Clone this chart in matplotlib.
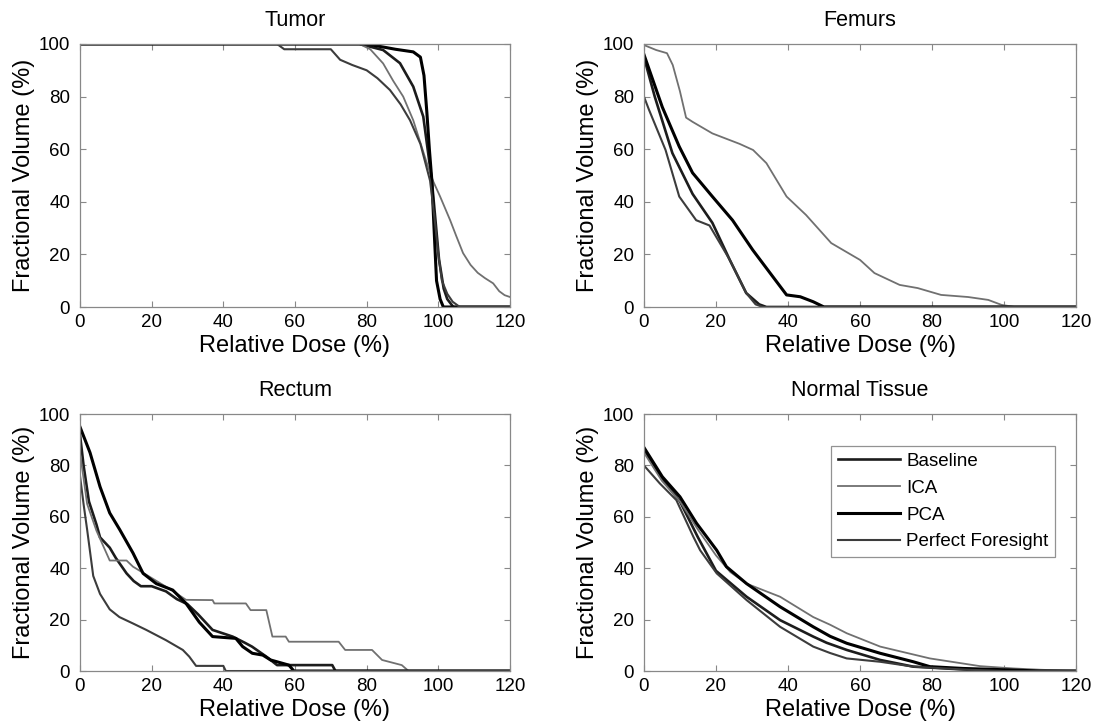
import matplotlib.pyplot as plt

plt.rcParams["font.family"] = ["Liberation Sans", "DejaVu Sans"]

# ---- Tumor ----
tumor_base_x = [0, 78, 84.6, 89.3, 93, 95.8, 98.2, 99.2, 100.2, 101.5, 102.5, 104.2, 120]
tumor_base_y = [100, 100, 97.7, 92.7, 83.8, 72.4, 48, 33, 18, 7, 3, 0, 0]
tumor_ica_x = [0, 78, 81, 84.6, 87.4, 90.2, 93, 96.8, 98.5, 100.5, 103.3, 105, 106.9, 109, 111, 113, 115.3, 117, 118.5, 120]
tumor_ica_y = [100, 100, 98, 92.6, 86, 80, 71, 54.7, 48, 42, 33, 27, 20.5, 16, 13, 11, 9, 6, 4.5, 3.8]
tumor_pca_x = [0, 80, 88, 93, 95, 96, 96.8, 97.5, 98.2, 98.8, 99.5, 100.5, 101.4, 120]
tumor_pca_y = [100, 100, 98, 97, 95, 88, 74, 60, 48, 30, 10, 3, 0, 0]
tumor_pf_x = [0, 55, 57, 70, 72.6, 76, 80, 83, 86.5, 89.5, 92.1, 95, 97.7, 99, 100, 101, 102.5, 104, 106, 120]
tumor_pf_y = [100, 100, 98, 98, 94, 92, 90, 87, 82.5, 77, 71, 62, 48, 33, 20, 10, 5, 2, 0, 0]

# ---- Femurs ----
fem_base_x = [0, 3, 7.9, 13.5, 19, 23.8, 28.4, 32, 34, 120]
fem_base_y = [95, 80, 58.5, 43, 32, 18, 5.3, 1, 0, 0]
fem_ica_x = [0, 3.4, 6.4, 8, 10, 11.7, 13.5, 19, 26.6, 30.3, 34, 39.6, 45, 52, 60, 64, 71, 76, 82.5, 90, 95.6, 99.3, 103, 120]
fem_ica_y = [99.6, 97.7, 96.5, 92, 82, 72, 70.4, 66, 62, 59.7, 54.7, 42, 35, 24.3, 17.9, 12.9, 8.4, 7.2, 4.6, 3.8, 2.7, 0.8, 0, 0]
fem_pca_x = [0, 5.1, 9.8, 13.5, 19, 24.6, 30.2, 35.8, 39.6, 43.4, 47, 50, 120]
fem_pca_y = [96, 76, 61, 51, 42, 33, 21.7, 11.5, 4.6, 3.9, 2, 0, 0]
fem_pf_x = [0, 1.4, 6, 9.8, 14.5, 18.2, 23.8, 28.4, 31, 33, 120]
fem_pf_y = [80, 75, 59.7, 42, 33, 31, 18, 5.3, 1, 0, 0]

# ---- Rectum ----
rec_base_x = [0, 1, 2.5, 4.6, 5.6, 8.3, 10, 13, 15, 17, 20, 24, 27, 30, 33, 37, 42.6, 46, 48, 52, 55, 70.4, 71.3, 120]
rec_base_y = [92, 80, 66, 57, 52, 48, 44, 38, 35, 33, 33, 31, 28, 26, 22, 16, 13.4, 11, 9.5, 5.6, 2.3, 2.3, 0, 0]
rec_ica_x = [0, 2, 4.6, 8.3, 13, 14.8, 19.4, 24, 26.8, 29.6, 37, 37.5, 46.3, 47.6, 52, 53.7, 57.4, 58.3, 72.2, 74, 81.5, 84.3, 89.8, 91.7, 120]
rec_ica_y = [85, 65, 54.6, 43, 43, 40.6, 36.7, 32.8, 30.3, 27.7, 27.6, 26.3, 26.3, 23.7, 23.7, 13.4, 13.4, 11.4, 11.4, 8.2, 8.2, 4.3, 2.3, 0, 0]
rec_pca_x = [0, 2.8, 5.6, 8.3, 11.1, 14.8, 17.6, 21.3, 25.9, 29.6, 33.3, 37, 43.5, 45.4, 48.1, 51, 53.2, 58.3, 59.7, 120]
rec_pca_y = [95, 85, 71.7, 61.5, 55, 45.9, 38, 34, 31.5, 26.3, 19, 13.4, 12.7, 9.5, 6.9, 6.2, 4.3, 2.3, 0, 0]
rec_pf_x = [0, 1, 2, 3.7, 5.6, 8.3, 11, 14.8, 18.5, 24, 28.7, 30.5, 32.4, 40, 40.7, 120]
rec_pf_y = [76, 65, 55, 37, 30, 24, 21, 18.5, 16, 12, 8.2, 5.6, 2, 2, 0, 0]

# ---- Normal tissue ----
nt_base_x = [0, 5, 10, 15, 20, 28.5, 37.8, 47, 50.7, 56.3, 65.6, 74.8, 90, 100, 120]
nt_base_y = [86, 75, 66, 52, 39, 28.9, 19.8, 13.4, 11, 8.2, 4.3, 1.7, 0.5, 0, 0]
nt_ica_x = [0, 5, 10, 15, 20, 24, 28.5, 37.8, 47, 51.7, 56.3, 65.6, 79.4, 93.3, 102.6, 110, 120]
nt_ica_y = [85, 74, 66, 55, 45, 38.5, 34, 28.9, 21, 18, 14.7, 9.5, 4.9, 1.9, 1, 0.5, 0]
nt_pca_x = [0, 5.1, 10, 14.6, 20.2, 22.9, 28.5, 37.8, 47, 51.7, 56.3, 65.6, 74.8, 79.4, 88.6, 100, 110, 120]
nt_pca_y = [87, 75.6, 67.8, 57.5, 47, 40.6, 34, 25, 17.2, 13.5, 10.8, 6.9, 3.6, 1.7, 1, 0.5, 0, 0]
nt_pf_x = [0, 4.4, 9, 13.7, 15.6, 20.2, 28.5, 37.8, 47, 51.7, 56.3, 65.6, 74.8, 90, 100, 120]
nt_pf_y = [80, 73, 66.5, 52.3, 47, 38, 27.6, 17.2, 9.5, 7, 4.9, 3.6, 1.7, 0.5, 0, 0]

labels = ["Baseline", "ICA", "PCA", "Perfect Foresight"]
colors = ["#1c1c1c", "#707070", "#000000", "#3c3c3c"]
widths = [1.9, 1.3, 2.2, 1.5]

panels = [
    ("Tumor", [0.0729, 0.5777, 0.392, 0.3618],
     [(tumor_base_x, tumor_base_y), (tumor_ica_x, tumor_ica_y), (tumor_pca_x, tumor_pca_y), (tumor_pf_x, tumor_pf_y)]),
    ("Femurs", [0.587, 0.5777, 0.394, 0.3618],
     [(fem_base_x, fem_base_y), (fem_ica_x, fem_ica_y), (fem_pca_x, fem_pca_y), (fem_pf_x, fem_pf_y)]),
    ("Rectum", [0.0729, 0.077, 0.392, 0.3535],
     [(rec_base_x, rec_base_y), (rec_ica_x, rec_ica_y), (rec_pca_x, rec_pca_y), (rec_pf_x, rec_pf_y)]),
    ("Normal Tissue", [0.587, 0.077, 0.394, 0.3535],
     [(nt_base_x, nt_base_y), (nt_ica_x, nt_ica_y), (nt_pca_x, nt_pca_y), (nt_pf_x, nt_pf_y)]),
]

fig = plt.figure(figsize=(10.97, 7.27), dpi=100)

for title, pos, series in panels:
    ax = fig.add_axes(pos)
    for (x, y), lab, c, w in zip(series, labels, colors, widths):
        ax.plot(x, y, color=c, lw=w, label=lab)
    ax.set_xlim(0, 120)
    ax.set_ylim(0, 100)
    ax.set_xticks(range(0, 121, 20))
    ax.set_yticks(range(0, 101, 20))
    ax.tick_params(direction="in", top=True, right=True, length=4, width=0.8,
                   color="#888888", labelsize=13.5)
    ax.tick_params(axis="x", pad=5)
    ax.tick_params(axis="y", pad=7)
    for s in ax.spines.values():
        s.set_color("#888888")
        s.set_linewidth(0.9)
    ax.set_title(title, fontsize=15.5, pad=13)
    ax.set_xlabel("Relative Dose (%)", fontsize=17, labelpad=3)
    ax.set_ylabel("Fractional Volume (%)", fontsize=17, labelpad=3)
    if title == "Normal Tissue":
        leg = ax.legend(loc="upper right", bbox_to_anchor=(0.951, 0.875), fontsize=13.5,
                        fancybox=False, frameon=True, handlelength=3.3, labelspacing=0.52,
                        borderpad=0.35, handletextpad=0.35, borderaxespad=0)
        leg.get_frame().set_edgecolor("#777777")
        leg.get_frame().set_linewidth(0.9)

fig.savefig("out.png", dpi=100)
